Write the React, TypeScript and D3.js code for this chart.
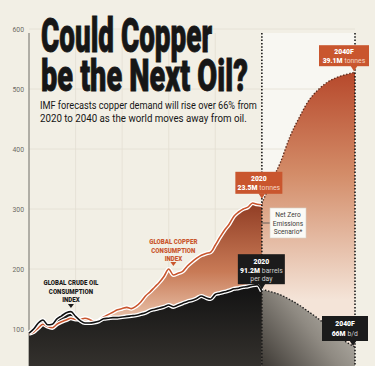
import React, { useLayoutEffect, useRef, useState } from "react";
import * as d3 from "d3";

// historical index, 1970-2020
const histYears: number[] = d3.range(1970, 2021);
const oilIndex: number[] = [
	93, 100, 110, 115, 107, 108, 117, 122, 127, 129, 121, 114, 110, 110, 111, 113, 117,
	118, 119, 119, 120, 121, 122, 123, 125, 127, 131, 133, 135, 137, 140, 137, 140, 143,
	146, 148, 151, 155, 152, 150, 158, 160, 162, 164, 167, 168, 170, 171, 173, 174, 163,
];
const copperIndex: number[] = [
	92, 95, 102, 108, 104, 102, 108, 112, 115, 118, 116, 116, 118, 116, 112, 114, 120,
	124, 128, 132, 134, 136, 134, 138, 145, 155, 162, 170, 178, 188, 200, 190, 193, 196,
	205, 212, 218, 223, 226, 228, 240, 253, 265, 275, 288, 295, 300, 303, 310, 308, 307,
];

// net zero forecast, 2020-2040
const fcYears: number[] = [2020, 2022, 2024, 2026, 2028, 2030, 2032, 2034, 2036, 2038, 2040];
const copperForecast: number[] = [309, 345, 378, 420, 452, 480, 498, 511, 519, 524, 528];
const oilForecast: number[] = [166, 162, 157, 149, 140, 129, 118, 105, 92, 79, 70];

const yTicks: number[] = [100, 200, 300, 400, 500, 600];
const gridYears: number[] = [1980, 1990, 2000, 2010];

const W = 375;
const H = 366;
const COPPER = "#c9562e";
const FONT = "Roboto, 'DejaVu Sans', sans-serif";

const x = d3.scaleLinear().domain([1970, 2040]).range([29, 355]);
const y = d3.scaleLinear().domain([0, 600]).range([389, 29]);

type P = [number, number];
const zip = (xs: number[], vs: number[]): P[] => xs.map((d, i) => [d, vs[i]]);

const line = d3
	.line<P>()
	.x((d) => x(d[0]))
	.y((d) => y(d[1]))
	.curve(d3.curveMonotoneX);
const area = d3
	.area<P>()
	.x((d) => x(d[0]))
	.y0(H)
	.y1((d) => y(d[1]))
	.curve(d3.curveMonotoneX);

// squeezes a text horizontally to a given width (transform, so the box is right too)
const FitText: React.FC<{
	x: number;
	y: number;
	width: number;
	size: number;
	weight?: number;
	stroke?: boolean;
	children: string;
}> = ({ x: tx, y: ty, width, size, weight = 400, stroke = false, children }) => {
	const ref = useRef<SVGTextElement>(null);
	const [k, setK] = useState(1);
	useLayoutEffect(() => {
		if (ref.current) {
			const w = ref.current.getComputedTextLength();
			if (w > 0) setK(width / w);
		}
	}, [width, children]);
	return (
		<text
			ref={ref}
			x={tx}
			y={ty}
			fontFamily={FONT}
			fontWeight={weight}
			fontSize={size}
			fill="#161616"
			stroke={stroke ? "#161616" : "none"}
			strokeWidth={stroke ? 0.9 : 0}
			transform={`translate(${tx},0) scale(${k},1) translate(${-tx},0)`}
		>
			{children}
		</text>
	);
};

// small callout box with a pointer underneath
const Callout: React.FC<{
	ax: number;
	ay: number;
	w: number;
	h: number;
	dx: number;
	fill: string;
	children: React.ReactNode;
}> = ({ ax, ay, w, h, dx, fill, children }) => {
	const bx = ax + dx - w / 2;
	const by = ay - 6 - h;
	return (
		<g>
			<rect x={bx} y={by} width={w} height={h} fill={fill} />
			<path d={`M${ax - 3.5},${ay - 6.5} L${ax + 3.5},${ay - 6.5} L${ax},${ay - 1} Z`} fill={fill} />
			<g transform={`translate(${bx + w / 2},${by})`}>{children}</g>
		</g>
	);
};

// "bold value" + "light unit" on one row, split at sx
const ValueRow: React.FC<{ y: number; sx: number; value: string; unit: string; unitColor: string }> = ({
	y: yy,
	sx,
	value,
	unit,
	unitColor,
}) => (
	<g>
		<text x={sx} y={yy} textAnchor="end" fontFamily={FONT} fontSize={6.8} fontWeight={900} fill="#fff">
			{value}
		</text>
		<text x={sx + 2} y={yy} textAnchor="start" fontFamily={FONT} fontSize={6.8} fill={unitColor}>
			{unit}
		</text>
	</g>
);

const Label: React.FC<{ lines: string[]; cx: number; top: number; color: string }> = ({
	lines,
	cx,
	top,
	color,
}) => (
	<g>
		{lines.map((t, i) => (
			<text
				key={t}
				x={cx}
				y={top + i * 8.6}
				textAnchor="middle"
				fontFamily={FONT}
				fontWeight={900}
				fontSize={7.3}
				fill={color}
				transform={`translate(${cx},0) scale(0.84,1) translate(${-cx},0)`}
			>
				{t}
			</text>
		))}
	</g>
);

export default function App() {
	const oilHist = zip(histYears, oilIndex);
	const cuHist = zip(histYears, copperIndex);
	const oilFc = zip(fcYears, oilForecast);
	const cuFc = zip(fcYears, copperForecast);
	const x20 = x(2020);
	const x40 = x(2040);

	const small = { fontFamily: FONT, fontSize: 6.8, textAnchor: "middle" as const };

	return (
		<svg
			width={W}
			height={H}
			style={{ position: "absolute", left: 0, top: 0, background: "#f2efe5" }}
		>
			<defs>
				<linearGradient id="cuHist" gradientUnits="userSpaceOnUse" x1="0" y1="200" x2="0" y2="330">
					<stop offset="0" stopColor="#8e3a22" />
					<stop offset="0.55" stopColor="#c87a56" />
					<stop offset="1" stopColor="#f0d2bc" />
				</linearGradient>
				<linearGradient id="cuFc" gradientUnits="userSpaceOnUse" x1="0" y1="70" x2="0" y2="300">
					<stop offset="0" stopColor="#b6472a" />
					<stop offset="0.45" stopColor="#d38c68" />
					<stop offset="1" stopColor="#f4e4d8" />
				</linearGradient>
				<linearGradient id="oilHist" gradientUnits="userSpaceOnUse" x1="0" y1="290" x2="0" y2="366">
					<stop offset="0" stopColor="#141414" />
					<stop offset="1" stopColor="#34312d" />
				</linearGradient>
				<linearGradient id="oilFc" gradientUnits="userSpaceOnUse" x1="355" y1="290" x2="262" y2="366">
					<stop offset="0" stopColor="#c9c6bd" />
					<stop offset="0.5" stopColor="#8f8a82" />
					<stop offset="1" stopColor="#3e3a35" />
				</linearGradient>
			</defs>

			{/* forecast window */}
			<rect x={x20} y={33} width={x40 - x20} height={H - 33} fill="#f8f7f2" />

			{/* grid */}
			{yTicks.map((t) => (
				<line key={t} x1={29} x2={x40} y1={y(t)} y2={y(t)} stroke="#e3dfd3" strokeWidth={0.8} />
			))}
			{gridYears.map((g) => (
				<line key={g} x1={x(g)} x2={x(g)} y1={33} y2={H} stroke="#e3dfd3" strokeWidth={0.8} />
			))}

			{/* y axis */}
			<line x1={29} x2={29} y1={33} y2={H} stroke="#6f6c66" strokeWidth={1} />
			{yTicks.map((t) => (
				<text
					key={t}
					x={24}
					y={y(t) + 3}
					textAnchor="end"
					fontFamily={FONT}
					fontSize={8}
					fill="#6d6a64"
					transform={`translate(24,0) scale(0.85,1) translate(-24,0)`}
				>
					{t}
				</text>
			))}

			{/* areas */}
			<path d={area(cuFc) ?? ""} fill="url(#cuFc)" />
			<path d={area(cuHist) ?? ""} fill="url(#cuHist)" />
			<path d={area(oilFc) ?? ""} fill="url(#oilFc)" />
			<path d={area(oilHist) ?? ""} fill="url(#oilHist)" />

			{/* forecast outlines */}
			<path d={line(cuFc) ?? ""} fill="none" stroke="#5a2a1c" strokeWidth={1.4} strokeDasharray="1.4 1.8" />
			<path d={line(oilFc) ?? ""} fill="none" stroke="#1a1a1a" strokeWidth={1.4} strokeDasharray="1.4 1.8" />

			{/* historical lines with white halo */}
			<path d={line(cuHist) ?? ""} fill="none" stroke="#fff" strokeWidth={4.2} />
			<path d={line(cuHist) ?? ""} fill="none" stroke={COPPER} strokeWidth={1.6} />
			<path d={line(oilHist) ?? ""} fill="none" stroke="#fff" strokeWidth={4.2} />
			<path d={line(oilHist) ?? ""} fill="none" stroke="#111" strokeWidth={1.6} />

			{/* 2020 / 2040 markers */}
			{[x20, x40].map((v) => (
				<line key={v} x1={v} x2={v} y1={33} y2={H} stroke="#1a1a1a" strokeWidth={1.6} strokeDasharray="1.5 1.8" />
			))}

			{/* series labels */}
			<Label lines={["GLOBAL CRUDE OIL", "CONSUMPTION", "INDEX"]} cx={x(1979)} top={285} color="#1a1a1a" />
			<path d={`M${x(1979) - 3},304 L${x(1979) + 3},304 L${x(1979)},308 Z`} fill="#1a1a1a" />
			<Label lines={["GLOBAL COPPER", "CONSUMPTION", "INDEX"]} cx={x(2001)} top={244} color={COPPER} />
			<path d={`M${x(2001) - 3},262 L${x(2001) + 3},262 L${x(2001)},266 Z`} fill={COPPER} />

			{/* callouts */}
			<Callout ax={x20} ay={y(copperIndex[copperIndex.length - 1]) - 5} w={47} h={22} dx={-3} fill={COPPER}>
				<text {...small} y={9} fill="#fff" fontWeight={900}>2020</text>
				<ValueRow y={18.5} sx={-1.5} value="23.5M" unit="tonnes" unitColor="#f6d7c8" />
			</Callout>
			<Callout ax={x40 - 1} ay={y(copperForecast[copperForecast.length - 1])} w={50} h={21} dx={-10} fill={COPPER}>
				<text {...small} y={9} fill="#fff" fontWeight={900}>2040F</text>
				<ValueRow y={18} sx={-1.5} value="39.1M" unit="tonnes" unitColor="#f6d7c8" />
			</Callout>
			<Callout ax={x20} ay={y(oilIndex[oilIndex.length - 1]) - 1} w={47} h={30} dx={-0.5} fill="#1b1b1b">
				<text {...small} y={9.5} fill="#fff" fontWeight={900}>2020</text>
				<ValueRow y={18.5} sx={-1.5} value="91.2M" unit="barrels" unitColor="#cfcfcf" />
				<text {...small} y={26.5} fill="#cfcfcf">per day</text>
			</Callout>
			<Callout ax={x40 - 2} ay={y(oilForecast[oilForecast.length - 1])} w={46} h={25} dx={-8} fill="#1b1b1b">
				<text {...small} y={10} fill="#fff" fontWeight={900}>2040F</text>
				<ValueRow y={20} sx={0.5} value="66M" unit="b/d" unitColor="#cfcfcf" />
			</Callout>

			{/* net zero note */}
			<line x1={x20} x2={270} y1={223} y2={223} stroke="#4a4a4a" strokeWidth={0.8} />
			<rect x={270} y={208} width={36} height={30} fill="#fbfaf6" stroke="#d8d4ca" strokeWidth={0.6} />
			{["Net Zero", "Emissions", "Scenario*"].map((t, i) => (
				<text key={t} x={288} y={217 + i * 8.5} textAnchor="middle" fontFamily={FONT} fontSize={6.6} fill="#3c3a36">
					{t}
				</text>
			))}

			{/* title */}
			<FitText x={41} y={52} width={171} size={48} weight={900} stroke>
				Could Copper
			</FitText>
			<FitText x={41} y={91} width={207} size={45} weight={900} stroke>
				be the Next Oil?
			</FitText>
			<FitText x={40} y={109} width={217} size={11.5}>
				IMF forecasts copper demand will rise over 66% from
			</FitText>
			<FitText x={40} y={122.5} width={207} size={11.5}>
				2020 to 2040 as the world moves away from oil.
			</FitText>
		</svg>
	);
}
